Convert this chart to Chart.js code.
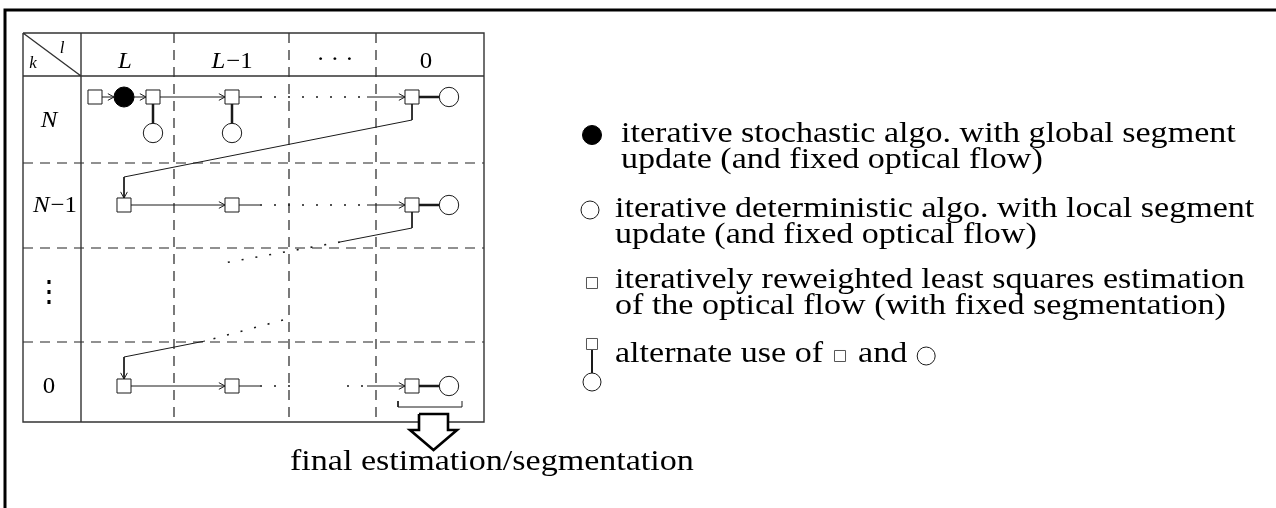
<!DOCTYPE html>
<html>
<head>
<meta charset="utf-8">
<script src="https://cdn.jsdelivr.net/npm/chart.js@4.4.1/dist/chart.umd.min.js"></script>
<style>
  html, body { margin: 0; padding: 0; background: #fff; }
  #wrap { width: 1276px; height: 508px; }
</style>
</head>
<body>
<div id="wrap"><canvas id="diagram" width="1276" height="508"></canvas></div>
<script>
// diagram units are the pixels of the 1276x508 frame, y grows downward

// table: levels l (columns) and frames k (rows)
const colLabels = ['L', 'L\u22121', '\u00B7 \u00B7 \u00B7', '0'];
const rowLabels = ['N', 'N\u22121', '\u22EE', '0'];
const colEdges = [23, 81, 174, 289, 376, 484];
const rowEdges = [33, 76, 163, 248, 342, 422];
const colLabelX = [125, 232, 335, 426];
const colLabelBase = [68, 68, 66, 68];
const rowLabelX = [49, 55, 49, 49];
const rowLabelBase = [127, 212, 293, 393];

// nodes of the algorithm
const squares = [[95, 97], [153, 97], [232, 97], [412, 97],
                 [124, 205], [232, 205], [412, 205],
                 [124, 386], [232, 386], [412, 386]];
const filledCircles = [[124, 97]];
const openCircles = [[153, 133], [232, 133], [449, 97], [449, 205], [449, 386]];

// connections
const arrows = [
  [[102, 97], [114, 97]],
  [[134, 97], [146, 97]],
  [[160, 97], [225, 97]],
  [[367, 97], [405, 97]],
  [[131, 205], [225, 205]],
  [[367, 205], [405, 205]],
  [[131, 386], [225, 386]],
  [[367, 386], [405, 386]],
  [[412, 104], [412, 120], [124, 177], [124, 198]],
  [[205, 341], [124, 357], [124, 379]]
];
const plainLines = [
  [[239, 97], [260, 97]],
  [[239, 205], [260, 205]],
  [[239, 386], [260, 386]],
  [[412, 212], [412, 228], [340, 242]]
];
const dottedLines = [
  [[260, 97], [367, 97]],
  [[260, 205], [367, 205]],
  [[260, 386], [292, 386]],
  [[347, 386], [367, 386]],
  [[340, 242], [224, 263]],
  [[283, 320], [205, 341]]
];
const thickLinks = [
  [[419, 97], [439, 97]],
  [[419, 205], [439, 205]],
  [[419, 386], [439, 386]],
  [[153, 104], [153, 124]],
  [[232, 104], [232, 124]]
];
const bracket = [[398, 401], [398, 407], [462, 407], [462, 401]];
const bigArrow = [[419, 414], [448, 414], [448, 430], [457, 430], [433.5, 450],
                  [410, 430], [419, 430], [419, 414]];
const frame = [[5, 508], [5, 10], [1276, 10]];

// legend
const legendLines = [
  ['iterative stochastic algo. with global segment', 'update (and fixed optical flow)'],
  ['iterative deterministic algo. with local segment', 'update (and fixed optical flow)'],
  ['iteratively reweighted least squares estimation', 'of the optical flow (with fixed segmentation)']
];
const legendLast = ['alternate use of', 'and'];
const legendX = [621, 615, 615, 615];
const legendBase = [142, 217, 288, 362];
const legendIconX = 592;
const outputLabel = 'final estimation/segmentation';
const outputX = 290;
const outputBase = 470;

const serif = '"Liberation Serif", "Times New Roman", serif';
const bigFont = '29px ' + serif;
const tabFont = 'italic 23px ' + serif;
const tabFontUp = '23px ' + serif;

// horizontal stretch so Times-like glyphs take the width of the original face
const probe = document.createElement('canvas').getContext('2d');
probe.font = bigFont;
const sxBig = 278 / probe.measureText('iterative stochastic a').width;
const sxTab = 1.08;

// inline symbols of the last legend entry
const lastW1 = probe.measureText(legendLast[0]).width * sxBig;
const lastW2 = probe.measureText(legendLast[1]).width * sxBig;
const inlineSq = legendX[3] + lastW1 + 17;
const andX = inlineSq + 18;
const inlineCirc = andX + lastW2 + 19;

const pts = list => list.map(([x, y]) => ({ x, y }));
const polys = list => list.flatMap((p, i) => (i ? [{ x: null, y: null }] : []).concat(pts(p)));

const solidGrid = [
  [[colEdges[0], rowEdges[0]], [colEdges[5], rowEdges[0]], [colEdges[5], rowEdges[5]],
   [colEdges[0], rowEdges[5]], [colEdges[0], rowEdges[0]]],
  [[colEdges[0], rowEdges[1]], [colEdges[5], rowEdges[1]]],
  [[colEdges[1], rowEdges[0]], [colEdges[1], rowEdges[5]]],
  [[colEdges[0], rowEdges[0]], [colEdges[1], rowEdges[1]]]
];
const dashedGrid = [];
for (let i = 2; i < colEdges.length - 1; i++) dashedGrid.push([[colEdges[i], rowEdges[0]], [colEdges[i], rowEdges[5]]]);
for (let j = 2; j < rowEdges.length - 1; j++) dashedGrid.push([[colEdges[0], rowEdges[j]], [colEdges[5], rowEdges[j]]]);

const ink = '#1a1a1a';
const lineSet = (data, extra) => Object.assign({
  data, showLine: true, pointRadius: 0, borderColor: ink, borderWidth: 1,
  fill: false, tension: 0, spanGaps: false
}, extra);

function drawText(ctx, str, x, y, font, sx, align) {
  ctx.save();
  ctx.font = font;
  ctx.textAlign = 'left';
  ctx.textBaseline = 'alphabetic';
  const w = ctx.measureText(str).width * sx;
  const left = align === 'center' ? x - w / 2 : x;
  ctx.translate(left, y);
  ctx.scale(sx, 1);
  ctx.fillText(str, 0, 0);
  ctx.restore();
}

// math label: a leading letter in italic, the rest ("−1", digits) upright
function drawMath(ctx, str, x, y) {
  const m = /^([A-Za-z]?)(.*)$/.exec(str);
  ctx.save();
  ctx.font = tabFont;
  const w1 = ctx.measureText(m[1]).width * sxTab;
  ctx.font = tabFontUp;
  const w2 = ctx.measureText(m[2]).width * sxTab;
  ctx.restore();
  const left = x - (w1 + w2 + (m[1] && m[2] ? 1 : 0)) / 2;
  if (m[1]) drawText(ctx, m[1], left, y, tabFont, sxTab, 'left');
  if (m[2]) drawText(ctx, m[2], left + w1 + (m[1] ? 1 : 0), y, tabFontUp, sxTab, 'left');
}

const annotate = {
  id: 'annotate',
  afterDatasetsDraw(chart) {
    const { ctx, scales: { x, y } } = chart;
    const px = v => x.getPixelForValue(v);
    const py = v => y.getPixelForValue(v);
    ctx.save();
    ctx.fillStyle = '#000';
    ctx.strokeStyle = ink;
    ctx.lineWidth = 1;

    // arrow heads
    arrows.forEach(p => {
      const [x1, y1] = p[p.length - 2];
      const [x2, y2] = p[p.length - 1];
      const a = Math.atan2(py(y2) - py(y1), px(x2) - px(x1));
      const L = 7, s = 0.5;
      ctx.beginPath();
      ctx.moveTo(px(x2) - L * Math.cos(a - s), py(y2) - L * Math.sin(a - s));
      ctx.lineTo(px(x2), py(y2));
      ctx.lineTo(px(x2) - L * Math.cos(a + s), py(y2) - L * Math.sin(a + s));
      ctx.stroke();
    });

    // table labels
    colLabels.forEach((t, i) => drawMath(ctx, t, px(colLabelX[i]), py(colLabelBase[i])));
    rowLabels.forEach((t, i) => {
      if (t === '\u22EE') {
        ctx.save();
        ctx.font = '30px "DejaVu Serif", serif';
        ctx.textAlign = 'center';
        ctx.textBaseline = 'middle';
        ctx.fillText(t, px(rowLabelX[i]), py(rowLabelBase[i]));
        ctx.restore();
        return;
      }
      drawMath(ctx, t, px(rowLabelX[i]), py(rowLabelBase[i]));
    });
    drawText(ctx, 'l', px(62), py(53), 'italic 17px ' + serif, 1, 'center');
    drawText(ctx, 'k', px(33), py(68), 'italic 17px ' + serif, 1, 'center');

    // legend text
    legendLines.forEach((lines, i) => {
      lines.forEach((t, j) => drawText(ctx, t, px(legendX[i]), py(legendBase[i] + j * 26), bigFont, sxBig, 'left'));
    });
    drawText(ctx, legendLast[0], px(legendX[3]), py(legendBase[3]), bigFont, sxBig, 'left');
    drawText(ctx, legendLast[1], px(andX), py(legendBase[3]), bigFont, sxBig, 'left');

    drawText(ctx, outputLabel, px(outputX), py(outputBase), bigFont, sxBig, 'left');
    ctx.restore();
  }
};

new Chart(document.getElementById('diagram'), {
  type: 'scatter',
  data: {
    datasets: [
      { data: pts(squares), pointStyle: 'rect', pointRadius: 9.9, pointBackgroundColor: '#fff',
        pointBorderColor: ink, pointBorderWidth: 1, order: 0 },
      { data: pts(filledCircles), pointStyle: 'circle', pointRadius: 10, pointBackgroundColor: '#000',
        pointBorderColor: '#000', pointBorderWidth: 1, order: 0 },
      { data: pts(openCircles), pointStyle: 'circle', pointRadius: 9.7, pointBackgroundColor: '#fff',
        pointBorderColor: ink, pointBorderWidth: 1, order: 0 },
      // legend icons
      { data: pts([[legendIconX, 135]]), pointStyle: 'circle', pointRadius: 9.5, pointBackgroundColor: '#000',
        pointBorderColor: '#000', pointBorderWidth: 1, order: 0 },
      { data: pts([[legendIconX - 2, 210], [legendIconX, 382], [inlineCirc, 356]]), pointStyle: 'circle',
        pointRadius: 9, pointBackgroundColor: '#fff', pointBorderColor: ink, pointBorderWidth: 1, order: 0 },
      { data: pts([[legendIconX, 283], [legendIconX, 344], [inlineSq, 356]]), pointStyle: 'rect',
        pointRadius: 7.8, pointBackgroundColor: '#fff', pointBorderColor: '#555', pointBorderWidth: 1, order: 0 },
      lineSet(polys([[[legendIconX, 349.5], [legendIconX, 373]]]), { borderWidth: 2, order: 1 }),
      // connections
      lineSet(polys(thickLinks), { borderWidth: 2.5, order: 2 }),
      lineSet(polys(arrows), { order: 2 }),
      lineSet(polys(plainLines), { order: 2 }),
      lineSet(polys(dottedLines), { borderWidth: 1.6, borderDash: [2, 12], order: 2 }),
      lineSet(polys([bracket]), { order: 2 }),
      // output arrow, filled white so the table edge stops at it
      lineSet(pts(bigArrow), { borderWidth: 2.6, borderColor: '#000', backgroundColor: '#fff',
        fill: 'shape', order: 3 }),
      // table grid
      lineSet(polys(dashedGrid), { borderWidth: 1.2, borderDash: [10, 7], borderColor: '#222', order: 5 }),
      lineSet(polys(solidGrid), { borderWidth: 1.4, borderColor: '#333', order: 4 }),
      lineSet(polys([frame]), { borderWidth: 3, borderColor: '#000', order: 6 })
    ]
  },
  options: {
    responsive: false,
    animation: false,
    devicePixelRatio: 1,
    layout: { padding: 0, autoPadding: false },
    events: [],
    plugins: { legend: { display: false }, tooltip: { enabled: false } },
    scales: {
      x: { type: 'linear', min: 0, max: 1276, display: false },
      y: { type: 'linear', min: 0, max: 508, reverse: true, display: false }
    }
  },
  plugins: [annotate]
});
</script>
</body>
</html>
